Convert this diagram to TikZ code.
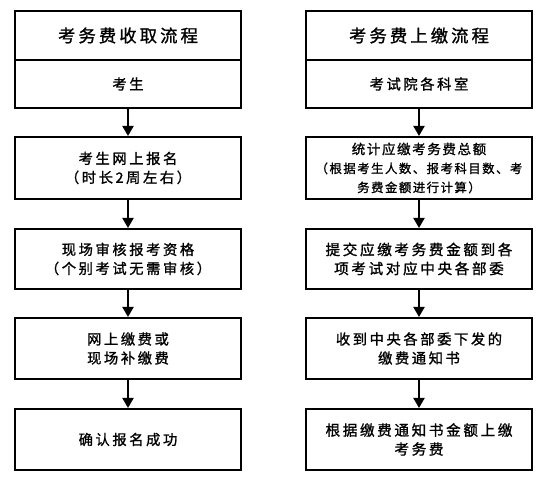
\documentclass[tikz,border=0pt]{standalone}
\usepackage{fontspec}
\usetikzlibrary{arrows.meta}
\newfontfamily\cjk[LetterSpace=18,FakeBold=1.2]{Noto Sans CJK SC}
\newfontfamily\cjksm[LetterSpace=12,FakeBold=1.2]{Noto Sans CJK SC}
\begin{document}
\begin{tikzpicture}[x=1pt,y=-1pt,
  box/.style={draw=black,line width=2pt,minimum width=226pt,inner sep=0pt,align=center,font=\cjk\fontsize{14.3}{19}\selectfont},
  arr/.style={line width=2pt,-{Triangle[length=10pt,width=11pt]}}]
\useasboundingbox (0,0) rectangle (550,484);
% left column
\node[box,minimum height=49pt,font=\cjk\fontsize{17.3}{20}\selectfont] (lt) at (128,35.5) {考务费收取流程};
\node[box,minimum height=48pt] (l0) at (128,84) {考生};
\node[box,minimum height=62pt] (l1) at (128,168) {考生网上报名\\（时长2周左右）};
\node[box,minimum height=60pt] (l2) at (128,259) {现场审核报考资格\\（个别考试无需审核）};
\node[box,minimum height=61pt] (l3) at (128,348.5) {网上缴费或\\现场补缴费};
\node[box,minimum height=61pt] (l4) at (128,439.5) {确认报名成功};
% right column
\node[box,minimum height=49pt,font=\cjk\fontsize{17.3}{20}\selectfont] (rt) at (419,35.5) {考务费上缴流程};
\node[box,minimum height=48pt] (r0) at (419,84) {考试院各科室};
\node[box,minimum height=62pt] (r1) at (419,168) {{\cjksm\fontsize{13.5}{17}\selectfont 统计应缴考务费总额}\\{\cjksm\fontsize{12.4}{15}\selectfont （根据考生人数、报考科目数、考}\\{\cjksm\fontsize{12.4}{15}\selectfont 务费金额进行计算）}};
\node[box,minimum height=60pt,font=\cjk\fontsize{14.6}{19}\selectfont] (r2) at (419,259) {提交应缴考务费金额到各\\项考试对应中央各部委};
\node[box,minimum height=61pt] (r3) at (419,348.5) {收到中央各部委下发的\\缴费通知书};
\node[box,minimum height=61pt,font=\cjk\fontsize{14.6}{19}\selectfont] (r4) at (419,439.5) {根据缴费通知书金额上缴\\考务费};
% arrows
\draw[arr] (l0) -- (l1);
\draw[arr] (l1) -- (l2);
\draw[arr] (l2) -- (l3);
\draw[arr] (l3) -- (l4);
\draw[arr] (r0) -- (r1);
\draw[arr] (r1) -- (r2);
\draw[arr] (r2) -- (r3);
\draw[arr] (r3) -- (r4);
\end{tikzpicture}
\end{document}
